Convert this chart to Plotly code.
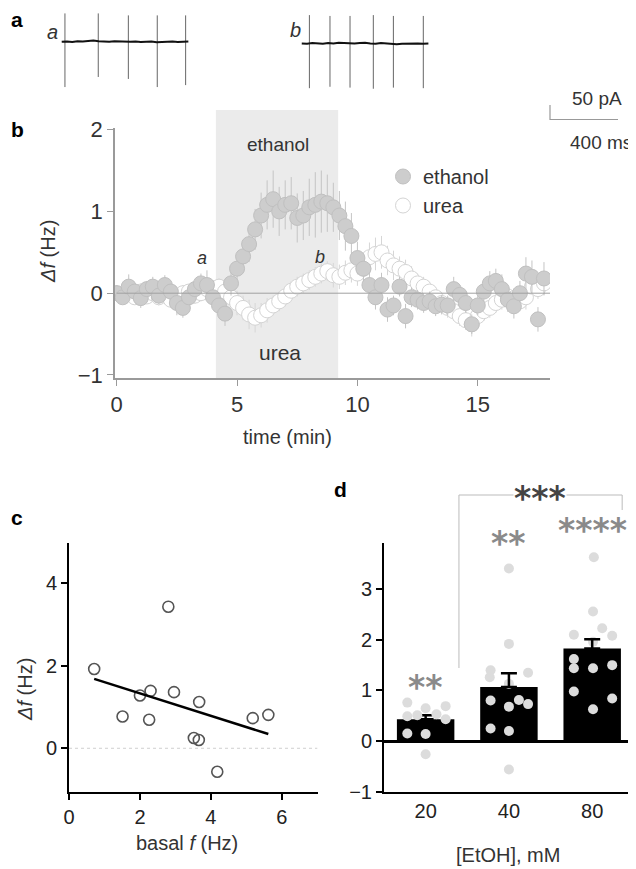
import numpy as np
import plotly.graph_objects as go

# the page body keeps an 8 px margin, so the figure is drawn 8 px smaller and
# every position below is given in window pixels
OFF = 8
W, H = 636 - OFF, 869 - OFF
FONT = "Liberation Sans, Arial, sans-serif"


def px(x):
    return (x - OFF) / W


def py(y):
    return 1 - (y - OFF) / H


# ---- panel a: example traces (ms, pA) ----
trace_a_spike_ms = [19, 215, 392, 562, 729]
trace_a_spike_top = [101, 101, 94, 94, 94]
trace_a_spike_bottom = [-162, -126, -133, -162, -155]
trace_a_noise = [0, 1, -1, 2, 1, 3, 4, 2, 1, 0, 2, 1, -1, 0, 1, -1, 0, 1, -2, -1, 0, 1, -1, 0, 1]

trace_b_spike_ms = [45, 166, 284, 421, 539, 715]
trace_b_spike_top = [101, 98, 98, 101, 98, 98]
trace_b_spike_bottom = [-160, -155, -158, -162, -158, -160]
trace_b_noise = [0, -1, 1, 0, -1, 1, 0, 2, 1, -1, 0, 1, 2, 0, -1, 1, 0, -2, -3, -1, 0, 1, 0, -1, 0]

# ---- panel b: time course ----
t_min = [0.0, 0.25, 0.5, 0.75, 1.0, 1.25, 1.5, 1.75, 2.0, 2.25, 2.5, 2.75,
         3.0, 3.25, 3.5, 3.75, 4.0, 4.25, 4.5, 4.75, 5.0, 5.25, 5.5, 5.75,
         6.0, 6.25, 6.5, 6.75, 7.0, 7.25, 7.5, 7.75, 8.0, 8.25, 8.5, 8.75,
         9.0, 9.25, 9.5, 9.75, 10.0, 10.25, 10.5, 10.75, 11.0, 11.25, 11.5, 11.75,
         12.0, 12.25, 12.5, 12.75, 13.0, 13.25, 13.5, 13.75, 14.0, 14.25, 14.5, 14.75,
         15.0, 15.25, 15.5, 15.75, 16.0, 16.25, 16.5, 16.75, 17.0, 17.25, 17.5, 17.75]
ethanol_df = [0.00, -0.05, 0.08, 0.02, -0.06, 0.05, 0.08, -0.03,
              0.10, 0.02, -0.12, -0.18, -0.05, 0.05, 0.12, 0.10,
              -0.05, -0.15, -0.25, 0.12, 0.30, 0.45, 0.60, 0.78,
              0.95, 1.08, 1.15, 1.00, 1.08, 1.10, 0.92, 0.95,
              1.05, 1.08, 1.12, 1.10, 1.05, 0.95, 0.82, 0.70,
              0.43, 0.30, 0.10, -0.05, 0.10, -0.20, -0.15, 0.08,
              -0.28, -0.05, -0.08, -0.12, -0.10, -0.16, -0.14, -0.15,
              0.05, -0.02, -0.12, -0.38, -0.15, 0.02, 0.12, 0.15,
              0.05, -0.08, -0.16, 0.00, 0.24, 0.20, -0.32, 0.18]
ethanol_sem = [0.10, 0.08, 0.15, 0.10, 0.12, 0.10, 0.12, 0.10,
               0.12, 0.10, 0.15, 0.12, 0.10, 0.10, 0.12, 0.18,
               0.12, 0.12, 0.15, 0.15, 0.18, 0.20, 0.22, 0.25,
               0.28, 0.30, 0.35, 0.30, 0.30, 0.32, 0.30, 0.30,
               0.35, 0.40, 0.38, 0.35, 0.30, 0.30, 0.30, 0.28,
               0.20, 0.18, 0.15, 0.15, 0.15, 0.15, 0.12, 0.12,
               0.15, 0.12, 0.12, 0.12, 0.12, 0.12, 0.12, 0.12,
               0.15, 0.12, 0.12, 0.12, 0.12, 0.15, 0.15, 0.15,
               0.18, 0.15, 0.15, 0.15, 0.20, 0.20, 0.15, 0.20]
urea_df = [0.00, -0.02, 0.00, -0.05, 0.02, -0.04, 0.00, -0.05,
           -0.02, -0.08, -0.05, 0.00, 0.02, -0.03, 0.00, 0.05,
           0.06, 0.08, 0.02, -0.05, -0.12, -0.18, -0.26, -0.30,
           -0.27, -0.21, -0.15, -0.10, -0.04, 0.03, 0.08, 0.12,
           0.16, 0.20, 0.24, 0.27, 0.22, 0.20, 0.25, 0.28,
           0.24, 0.30, 0.44, 0.48, 0.50, 0.40, 0.34, 0.30,
           0.26, 0.18, 0.12, 0.08, 0.02, -0.05, -0.12, -0.18,
           -0.22, -0.28, -0.33, -0.38, -0.28, -0.22, -0.18, -0.12,
           -0.08, -0.04, -0.06, -0.10, -0.05, 0.08, 0.05, 0.12]
urea_sem = [0.08, 0.08, 0.10, 0.08, 0.10, 0.08, 0.08, 0.10,
            0.10, 0.08, 0.10, 0.10, 0.08, 0.10, 0.10, 0.10,
            0.10, 0.10, 0.12, 0.12, 0.15, 0.15, 0.18, 0.18,
            0.15, 0.15, 0.12, 0.12, 0.12, 0.12, 0.12, 0.12,
            0.12, 0.12, 0.12, 0.12, 0.15, 0.15, 0.15, 0.15,
            0.15, 0.18, 0.18, 0.20, 0.20, 0.18, 0.18, 0.15,
            0.15, 0.15, 0.12, 0.12, 0.12, 0.12, 0.12, 0.12,
            0.12, 0.12, 0.12, 0.15, 0.12, 0.12, 0.12, 0.12,
            0.12, 0.12, 0.12, 0.12, 0.15, 0.15, 0.12, 0.15]
drug_on, drug_off = 4.12, 9.2

# ---- panel c: scatter ----
basal_f = [0.71, 2.80, 1.51, 2.00, 2.30, 2.26, 2.96, 3.67, 3.52, 3.66, 4.18, 5.18, 5.62]
delta_f = [1.92, 3.43, 0.77, 1.28, 1.39, 0.69, 1.36, 1.12, 0.25, 0.20, -0.57, 0.73, 0.81]

# ---- panel d: bars ----
etoh_labels = ["20", "40", "80"]
bar_mean = [0.43, 1.07, 1.83]
bar_sem = [0.08, 0.27, 0.18]
pts_20 = [0.76, 0.69, 0.65, 0.51, 0.49, 0.53, 0.43, 0.15, 0.14, -0.26]
jit_20 = [-0.22, 0.24, 0.0, -0.10, -0.22, 0.13, 0.24, -0.22, 0.0, 0.0]
pts_40 = [3.41, 1.92, 1.40, 1.26, 1.35, 1.13, 0.80, 0.81, 0.68, 0.73, 0.25, 0.20, -0.56]
jit_40 = [0.0, 0.0, -0.22, -0.23, 0.23, 0.0, -0.22, 0.12, 0.0, 0.23, -0.22, 0.0, 0.0]
pts_80 = [3.63, 2.56, 2.23, 2.10, 2.08, 1.96, 1.62, 1.44, 1.44, 1.50, 0.98, 0.84, 0.63]
jit_80 = [0.02, 0.01, 0.12, -0.22, 0.24, 0.01, -0.22, -0.22, 0.01, 0.24, -0.22, 0.24, 0.01]
stars = ["**", "**", "****"]
star_px_y = [687, 543, 530]   # vertical place of each star group (window px)

fig = go.Figure()

# panel a traces
for start, spikes, tops, bottoms, noise, offset in [
    (363, trace_a_spike_ms, trace_a_spike_top, trace_a_spike_bottom, trace_a_noise, 0),
    (1775, trace_b_spike_ms, trace_b_spike_top, trace_b_spike_bottom, trace_b_noise, -6),
]:
    sx, sy = [], []
    for t, top, bot in zip(spikes, tops, bottoms):
        sx += [start + t, start + t, None]
        sy += [offset + top, offset + bot, None]
    fig.add_trace(go.Scatter(x=sx, y=sy, mode="lines", line=dict(color="#666", width=1),
                             xaxis="x", yaxis="y", showlegend=False, hoverinfo="skip"))
    bx = start + np.linspace(0, 745, len(noise))
    fig.add_trace(go.Scatter(x=bx, y=np.array(noise) + offset, mode="lines",
                             line=dict(color="#111", width=2), xaxis="x", yaxis="y",
                             showlegend=False, hoverinfo="skip"))

# panel b traces
fig.add_trace(go.Scatter(
    x=t_min, y=urea_df, mode="markers", name="urea", legendrank=2,
    marker=dict(size=15, color="white", line=dict(color="#d4d4d4", width=1)),
    error_y=dict(type="data", array=urea_sem, color="#d6d6d6", thickness=1, width=0),
    xaxis="x2", yaxis="y2",
))
fig.add_trace(go.Scatter(
    x=t_min, y=ethanol_df, mode="markers", name="ethanol", legendrank=1,
    marker=dict(size=15, color="#cdcdcd", line=dict(color="#c0c0c0", width=1)),
    error_y=dict(type="data", array=ethanol_sem, color="#c4c4c4", thickness=1, width=0),
    xaxis="x2", yaxis="y2",
))

# panel c
fig.add_trace(go.Scatter(
    x=basal_f, y=delta_f, mode="markers", showlegend=False,
    marker=dict(size=11, color="rgba(255,255,255,0)", line=dict(color="#555", width=1.6)),
    xaxis="x3", yaxis="y3",
))
coef = np.polyfit(basal_f, delta_f, 1)
x_fit = np.array([min(basal_f), max(basal_f)])
fig.add_trace(go.Scatter(
    x=x_fit, y=np.polyval(coef, x_fit), mode="lines", showlegend=False,
    line=dict(color="black", width=2.5), xaxis="x3", yaxis="y3",
))

# panel d
fig.add_trace(go.Bar(x=[0, 1, 2], y=bar_mean, width=0.69, marker=dict(color="black", line=dict(width=0)),
                     showlegend=False, xaxis="x4", yaxis="y4"))


def sem_trace(idx):
    return go.Scatter(
        x=idx, y=[bar_mean[i] for i in idx], mode="markers", showlegend=False,
        marker=dict(size=1, color="rgba(0,0,0,0)"),
        error_y=dict(type="data", array=[bar_sem[i] for i in idx], arrayminus=[0] * len(idx),
                     symmetric=False, color="black", thickness=2.5, width=8),
        xaxis="x4", yaxis="y4",
    )


# the 20 mM error bar sits under the dots, the others above
fig.add_trace(sem_trace([0]))
for i, (pts, jit) in enumerate([(pts_20, jit_20), (pts_40, jit_40), (pts_80, jit_80)]):
    fig.add_trace(go.Scatter(
        x=[i + j for j in jit], y=pts, mode="markers", showlegend=False,
        marker=dict(size=10, color="#dcdcdc", line=dict(width=0)),
        xaxis="x4", yaxis="y4",
    ))
fig.add_trace(sem_trace([1, 2]))

shapes = [
    # drug application window
    dict(type="rect", xref="x2", yref="paper", x0=drug_on, x1=drug_off,
         y0=py(378), y1=py(110), fillcolor="#ebebeb", line=dict(width=0), layer="below"),
    dict(type="line", xref="x2", yref="y2", x0=0, x1=18, y0=0, y1=0,
         line=dict(color="#a0a0a0", width=1), layer="above"),
    dict(type="line", xref="x3", yref="y3", x0=0, x1=7, y0=0, y1=0,
         line=dict(color="#cfcfcf", width=1, dash="dot"), layer="below"),
    # significance bracket
    dict(type="path", xref="x4", yref="paper",
         path=f"M 0.4 {py(668)} L 0.4 {py(495)} L 2.36 {py(495)} L 2.36 {py(510)}",
         line=dict(color="#bbbbbb", width=1)),
    # scale bar
    dict(type="path", xref="paper", yref="paper",
         path=f"M {px(550)} {py(105)} L {px(550)} {py(119.5)} L {px(618)} {py(119.5)}",
         line=dict(color="#999", width=1.2)),
]

lab = dict(family=FONT, color="#333")
star_font = "DejaVu Sans, sans-serif"
annotations = [
    dict(x=px(17), y=py(19), text="<b>a</b>", borderpad=0, font=dict(family=FONT, size=21, color="black")),
    dict(x=px(17), y=py(130), text="<b>b</b>", font=dict(family=FONT, size=21, color="black")),
    dict(x=px(17), y=py(517), text="<b>c</b>", font=dict(family=FONT, size=21, color="black")),
    dict(x=px(340), y=py(490), text="<b>d</b>", font=dict(family=FONT, size=21, color="black")),
    dict(x=px(52), y=py(32), text="<i>a</i>", font=dict(size=20, **lab)),
    dict(x=px(295), y=py(30), text="<i>b</i>", font=dict(size=20, **lab)),
    dict(x=px(597), y=py(98), text="50 pA", font=dict(size=19, **lab)),
    dict(x=px(601), y=py(142), text="400 ms", font=dict(size=19, **lab)),
    # panel b labels
    dict(x=6.7, y=1.82, xref="x2", yref="y2", text="ethanol", font=dict(size=19, **lab)),
    dict(x=6.78, y=-0.72, xref="x2", yref="y2", text="urea", font=dict(size=21, **lab)),
    dict(x=3.53, y=0.43, xref="x2", yref="y2", text="<i>a</i>", font=dict(size=18, **lab)),
    dict(x=8.44, y=0.44, xref="x2", yref="y2", text="<i>b</i>", font=dict(size=18, **lab)),
    dict(x=px(48), y=py(252), text="<i>Δf</i> (Hz)", textangle=-90, font=dict(size=20, **lab)),
    dict(x=px(287), y=py(437), text="time (min)", font=dict(size=20, **lab)),
    # panel c labels
    dict(x=px(25), y=py(690), text="<i>Δf</i> (Hz)", textangle=-90, font=dict(size=20, **lab)),
    dict(x=px(187), y=py(843), text="basal <i>f</i> (Hz)", font=dict(size=20, **lab)),
    # panel d labels
    dict(x=px(508), y=py(855), text="[EtOH], mM", font=dict(size=20, **lab)),
    dict(x=px(540), y=py(498), text="<b>***</b>", bgcolor="white", borderpad=0,
         font=dict(family=star_font, size=33, color="#444")),
]
for i, (s, yp) in enumerate(zip(stars, star_px_y)):
    annotations.append(dict(x=i, y=py(yp), xref="x4", yref="paper", text=f"<b>{s}</b>",
                            font=dict(family=star_font, size=33, color="#8a8a8a")))
for a in annotations:
    a.setdefault("xref", "paper")
    a.setdefault("yref", "paper")
    a.setdefault("showarrow", False)
    a.setdefault("xanchor", "center")
    a.setdefault("yanchor", "middle")

gray_ax = dict(showline=True, linecolor="#9a9a9a", linewidth=1.5, ticks="outside",
               tickcolor="#9a9a9a", ticklen=6, showgrid=False, zeroline=False, automargin=False,
               tickfont=dict(family=FONT, size=22, color="#333"))
black_ax = dict(showline=True, linecolor="black", linewidth=2, ticks="outside",
                tickcolor="black", ticklen=6, tickwidth=2, showgrid=False, zeroline=False,
                automargin=False, tickfont=dict(family=FONT, size=20, color="#222"))

ms_per_px, pa_per_px, base_px = 400 / 68, 50 / 14, 41.7

fig.update_layout(
    width=W, height=H,
    margin=dict(l=0, r=0, t=0, b=0, pad=0, autoexpand=False),
    paper_bgcolor="white", plot_bgcolor="rgba(0,0,0,0)",
    font=dict(family=FONT),
    xaxis=dict(domain=[0, 1], range=[OFF * ms_per_px, 636 * ms_per_px], visible=False,
               anchor="y", automargin=False),
    yaxis=dict(domain=[py(130), 1], range=[(base_px - 130) * pa_per_px, (base_px - OFF) * pa_per_px],
               visible=False, anchor="x", automargin=False),
    xaxis2=dict(domain=[px(115), px(550)], range=[-0.07, 18], tickvals=[0, 5, 10, 15],
                anchor="y2", **gray_ax),
    yaxis2=dict(domain=[py(378), py(128)], range=[-1.037, 2.02], tickvals=[-1, 0, 1, 2],
                anchor="x2", **gray_ax),
    xaxis3=dict(domain=[px(69), px(318)], range=[0, 7.02], tickvals=[0, 2, 4, 6],
                anchor="y3", **black_ax),
    yaxis3=dict(domain=[py(791.7), py(542.7)], range=[-1.052, 4.98], tickvals=[0, 2, 4],
                anchor="x3", **black_ax),
    xaxis4=dict(domain=[px(384), px(633)], range=[-0.5, 2.49], tickvals=[0, 1, 2],
                ticktext=etoh_labels, anchor="y4",
                **{**black_ax, "ticks": "", "ticklen": 0}),
    yaxis4=dict(domain=[py(791.7), py(543.3)], range=[-1.0, 3.907], tickvals=[-1, 0, 1, 2, 3],
                anchor="x4", **{**black_ax, "zeroline": True, "zerolinecolor": "black",
                                "zerolinewidth": 2.5}),
    legend=dict(x=px(383), y=py(157), xanchor="left", yanchor="top",
                bgcolor="rgba(0,0,0,0)", font=dict(family=FONT, size=20, color="#333"),
                itemsizing="trace", tracegroupgap=0),
    shapes=shapes,
    annotations=annotations,
)

fig.write_html("out.html")
